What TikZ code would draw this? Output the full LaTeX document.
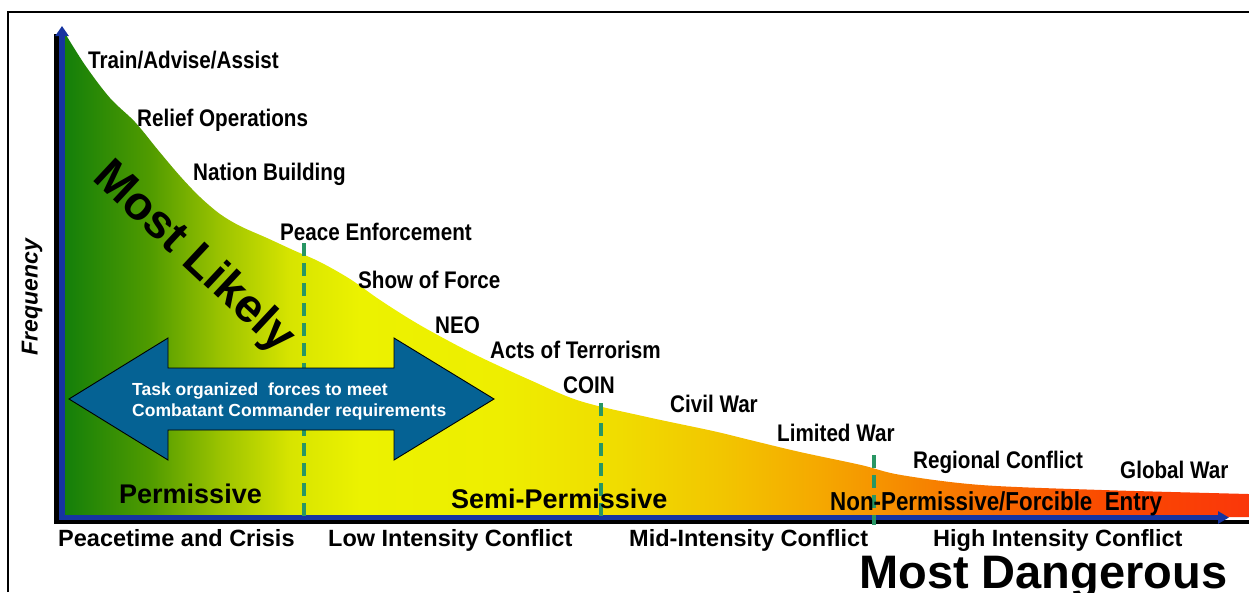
\documentclass[tikz,border=0pt]{standalone}
\usepackage{fontspec}
\setmainfont{Liberation Sans}
\newfontfamily\narrowsans[FakeStretch=0.86]{Liberation Sans}
\usetikzlibrary{arrows.meta}

\definecolor{axisblue}{RGB}{22,52,160}
\definecolor{arrowblue}{RGB}{5,98,148}
\definecolor{dashgreen}{RGB}{40,150,100}

\definecolor{g0}{RGB}{18,126,10}
\definecolor{g1}{RGB}{80,155,0}
\definecolor{g2}{RGB}{155,195,0}
\definecolor{g3}{RGB}{215,228,0}
\definecolor{g4}{RGB}{236,242,0}
\definecolor{g5}{RGB}{238,238,0}
\definecolor{g6}{RGB}{240,220,0}
\definecolor{g7}{RGB}{242,198,0}
\definecolor{g8}{RGB}{245,168,0}
\definecolor{g9}{RGB}{246,140,0}
\definecolor{g10}{RGB}{248,105,0}
\definecolor{g11}{RGB}{250,75,0}
\definecolor{g12}{RGB}{250,55,10}

% intensity band: green (peace) to red (war), left to right
\pgfdeclarehorizontalshading{intensity}{100bp}{%
  color(0bp)=(g0); color(25bp)=(g0); color(28.71bp)=(g1); color(31.66bp)=(g2);
  color(34.6bp)=(g3); color(37.55bp)=(g4); color(43.45bp)=(g5); color(48.5bp)=(g6);
  color(52.72bp)=(g7); color(56.93bp)=(g8); color(60.3bp)=(g9); color(64.51bp)=(g10);
  color(68.72bp)=(g11); color(75bp)=(g12); color(100bp)=(g12)}

\tikzset{
  lbl/.style={font=\narrowsans\bfseries\fontsize{24}{28}\selectfont, anchor=base west, inner sep=0pt},
  axislbl/.style={font=\bfseries\fontsize{23.5}{28}\selectfont, anchor=base west, inner sep=0pt},
  zonelbl/.style={font=\bfseries\fontsize{27}{32}\selectfont, anchor=base west, inner sep=0pt},
  bigtitle/.style={font=\bfseries\fontsize{47}{54}\selectfont, inner sep=0pt},
  divider/.style={dashgreen, line width=3.5pt, dash pattern=on 13pt off 7pt},
  forcearrow/.style={fill=arrowblue, draw=black, line width=0.9pt, line join=miter},
}

\begin{document}
\begin{tikzpicture}[x=1pt, y=-1pt]
\useasboundingbox (0,0) rectangle (1249,592);

% outer frame (top and left edges)
\draw[line width=2pt] (8,592) -- (8,12) -- (1249,12);

% frequency / intensity area under the curve
\shade[shading=intensity] (62,517) -- (62,30)
  -- plot[smooth, tension=0.55] coordinates {(63,30) (85,65) (110,98) (135,122) (158,150)
    (180,176) (200,197) (220,214) (240,226) (267,238) (293,250) (320,262) (350,279)
    (380,300) (413,321) (445,339) (480,357) (530,380) (580,401) (647,417) (713,431)
    (750,440) (800,452) (861,465) (901,475) (981,485) (1102,490) (1249,494)}
  -- (1249,517) -- cycle;

% axes with drop shadow
\draw[line width=5pt, black] (56,523) coordinate (yshadow) -- (56,34);
\draw[line width=4pt, black] (54,522) coordinate (xshadow) -- (1249,522);
\coordinate (ytip) at (62,26);
\coordinate (xtip) at (1229,517.5);
\draw[line width=6pt, axisblue, -{Triangle[length=10pt,width=13pt]}] (62,520) -- (ytip);
\draw[line width=5pt, axisblue, -{Triangle[length=11pt,width=12pt]}] (59,517.5) -- (xtip);

% zone dividers
\coordinate (d1top) at (304,243); \coordinate (d1bot) at (304,519);
\coordinate (d2top) at (601,403); \coordinate (d2bot) at (601,520);
\coordinate (d3top) at (874,455); \coordinate (d3bot) at (874,525);
\draw[divider] (d1top) -- (d1bot);
\draw[divider] (d2top) -- (d2bot);
\draw[divider] (d3top) -- (d3bot);

% double-headed task-force arrow
\draw[forcearrow] (69,399) -- (168,338) -- (168,368) -- (394,368) -- (394,338)
  -- (494,399) -- (394,460) -- (394,430) -- (168,430) -- (168,460) -- cycle;
\node[font=\bfseries\fontsize{17.5}{21}\selectfont, text=white, align=left,
  anchor=base west, inner sep=0pt] (task) at (132,416)
  {Task organized\ \ forces to meet\\Combatant Commander requirements};

% operation types along the curve
\node[lbl] (taa) at (88,68) {Train/Advise/Assist};
\node[lbl] (relief) at (137,126) {Relief Operations};
\node[lbl] (nation) at (193,180) {Nation Building};
\node[lbl] (peace) at (280,240) {Peace Enforcement};
\node[lbl] (show) at (358,288) {Show of Force};
\node[lbl] (neo) at (435,333) {NEO};
\node[lbl] (terror) at (490,358) {Acts of Terrorism};
\node[lbl] (coin) at (563,393) {COIN};
\node[lbl] (civil) at (670,412) {Civil War};
\node[lbl] (limited) at (777,441) {Limited War};
\node[lbl] (regional) at (913,468) {Regional Conflict};
\node[lbl] (global) at (1120,478) {Global War};

% environment zones
\node[zonelbl] (perm) at (119,503) {Permissive};
\node[zonelbl] (semi) at (451,508) {Semi-Permissive};
\node[lbl, font=\narrowsans\bfseries\fontsize{26}{30}\selectfont] (nonperm) at (830,510)
  {Non-Permissive/Forcible\ \ Entry};

% conflict intensity along the horizontal axis
\node[axislbl] (peacetime) at (58,546) {Peacetime and Crisis};
\node[axislbl] (lic) at (328,546) {Low Intensity Conflict};
\node[axislbl] (mic) at (629,546) {Mid-Intensity Conflict};
\node[axislbl] (hic) at (933,546) {High Intensity Conflict};

% axis titles
\node[font=\bfseries\itshape\fontsize{23}{26}\selectfont, rotate=90, inner sep=0pt] (freq) at (32,297) {Frequency};
\node[bigtitle, rotate=-43] (likely) at (193,258) {Most Likely};
\node[bigtitle, anchor=base west] (danger) at (859,588) {Most Dangerous};
\end{tikzpicture}
\end{document}
